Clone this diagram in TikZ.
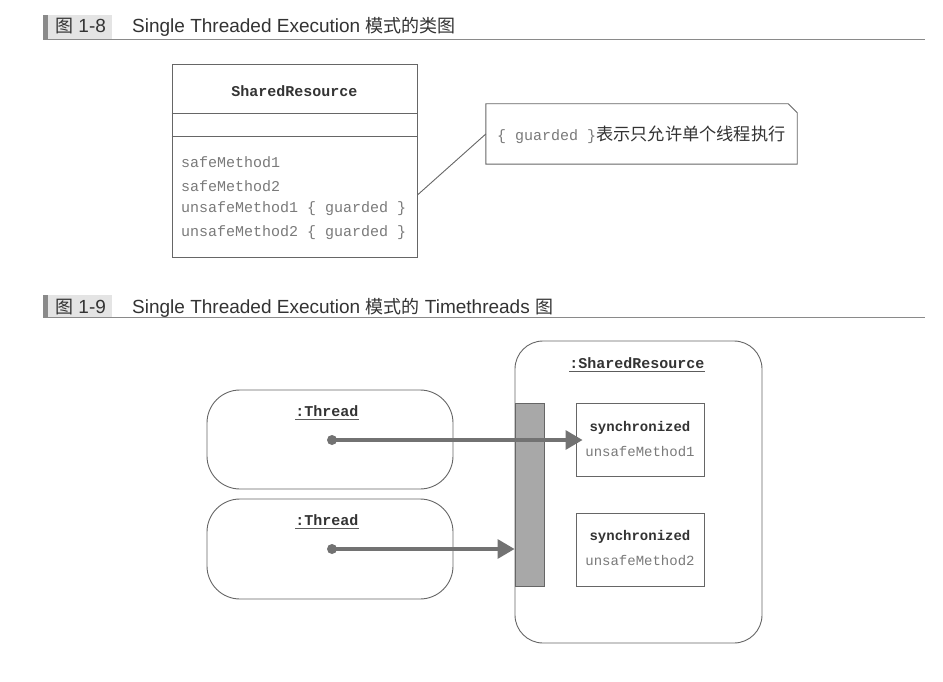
\documentclass[tikz,border=0pt]{standalone}
\usepackage{fontspec}
\setmainfont{Liberation Sans}
\setmonofont{Liberation Mono}
\newfontfamily\cjk{Noto Sans CJK SC}
\usetikzlibrary{arrows.meta}
\definecolor{ln}{HTML}{666666}
\definecolor{txt}{HTML}{333333}
\definecolor{lt}{HTML}{7A7A7A}
\definecolor{arr}{HTML}{727272}
\definecolor{barc}{HTML}{A8A8A8}
\definecolor{hbar}{HTML}{8A8A8A}
\definecolor{hbg}{HTML}{E4E4E4}
\begin{document}
\begin{tikzpicture}[x=1pt,y=-1pt,
  hdr/.style={anchor=base west, inner sep=0pt, text=txt, font=\fontsize{19}{22}\selectfont},
  box/.style={draw=ln, line width=0.9pt, inner sep=0pt},
  rbox/.style={draw=ln, line width=0.9pt, inner sep=0pt, rounded corners=33pt},
  mono/.style={inner sep=0pt, font=\ttfamily\fontsize{15}{18}\selectfont},
  monob/.style={inner sep=0pt, text=txt, font=\ttfamily\bfseries\fontsize{15}{18}\selectfont},
  monos/.style={inner sep=0pt, text=lt, font=\ttfamily\fontsize{14}{17}\selectfont},
  monosb/.style={inner sep=0pt, text=txt, font=\ttfamily\bfseries\fontsize{14}{17}\selectfont},
  method/.style={mono, anchor=west, text=lt},
  uline/.style={draw=txt!80, line width=0.8pt},
  dot/.style={circle, fill=arr, minimum size=10pt, inner sep=0pt},
  call/.style={draw=arr, line width=3.2pt, -{Triangle[length=17pt,width=19pt]}}
]
\useasboundingbox (0,0) rectangle (943,682);
\fill[white] (0,0) rectangle (943,682);

% ---------- header 1 ----------
\fill[hbg] (47,15) rectangle (112,39.5);
\fill[hbar] (43,15) rectangle (48,39.5);
\draw[hbar, line width=1.2pt] (43,39.5) -- (925,39.5);
\node[hdr] (h1num) at (55,33) {{\cjk\fontsize{18}{22}\selectfont 图} 1-8};
\node[hdr] (h1txt) at (132,33) {Single Threaded Execution {\cjk\fontsize{18}{22}\selectfont 模式的类图}};

% ---------- class box ----------
\node[box, minimum width=245pt, minimum height=193pt] (cls) at (294.5,160.5) {};
\draw[ln, line width=0.9pt] (cls.west |- 0,113) -- (cls.east |- 0,113);
\draw[ln, line width=0.9pt] (cls.west |- 0,136) -- (cls.east |- 0,136);
\node[monob] (clsname) at (294.5,91) {SharedResource};
\node[method] (sm1) at (181,162) {safeMethod1};
\node[method] (sm2) at (181,186) {safeMethod2};
\node[method] (um1) at (181,209) {unsafeMethod1 \{ guarded \}};
\node[method] (um2) at (181,233) {unsafeMethod2 \{ guarded \}};

% ---------- note ----------
\node[minimum width=311pt, minimum height=60pt, inner sep=0pt] (note) at (641.5,134) {};
\draw[ln, line width=0.9pt] (note.south west) -- (note.north west) -- ([xshift=-9pt]note.north east) -- ([yshift=-9pt]note.north east) -- (note.south east) -- cycle;
\node[anchor=west, inner sep=0pt] (notetext) at (497,135) {{\ttfamily\fontsize{15}{18}\selectfont\color{lt}\{ guarded \}}{\cjk\fontsize{17.2}{20}\selectfont\color{txt}表示只允许单个线程执行}};
\draw[ln, line width=0.9pt] (cls.east |- 0,195) -- (note.west);

% ---------- header 2 ----------
\fill[hbg] (47,295) rectangle (112,317.5);
\fill[hbar] (43,295) rectangle (48,317.5);
\draw[hbar, line width=1.2pt] (43,317.5) -- (925,317.5);
\node[hdr] (h2num) at (55,313) {{\cjk\fontsize{18}{22}\selectfont 图} 1-9};
\node[hdr] (h2txt) at (132,313) {Single Threaded Execution {\cjk\fontsize{18}{22}\selectfont 模式的} Timethreads {\cjk\fontsize{18}{22}\selectfont 图}};

% ---------- shared resource ----------
\node[rbox, rounded corners=28pt, minimum width=247pt, minimum height=302pt] (sr) at (638.5,492) {};
\node[monob] (srlab) at (637,363) {:SharedResource};
\draw[uline] ([yshift=-3.5pt]srlab.base west) -- ([yshift=-3.5pt]srlab.base east);
\node[draw=ln, fill=barc, line width=0.9pt, minimum width=29pt, minimum height=183pt, inner sep=0pt] (bar) at (529.5,494.5) {};

\node[box, minimum width=128pt, minimum height=73pt] (mb1) at (640,439.5) {};
\node[monosb] (sy1) at (640,428) {synchronized};
\node[monos] (un1) at (640,452) {unsafeMethod1};
\node[box, minimum width=128pt, minimum height=73pt] (mb2) at (640,549.5) {};
\node[monosb] (sy2) at (640,537) {synchronized};
\node[monos] (un2) at (640,561) {unsafeMethod2};

% ---------- threads ----------
\node[rbox, minimum width=246pt, minimum height=99pt] (thr1) at (330,439.5) {};
\node[monob] (t1lab) at (327,411) {:Thread};
\draw[uline] ([yshift=-3.5pt]t1lab.base west) -- ([yshift=-3.5pt]t1lab.base east);
\node[rbox, minimum width=246pt, minimum height=100pt] (thr2) at (330,549) {};
\node[monob] (t2lab) at (327,520) {:Thread};
\draw[uline] ([yshift=-3.5pt]t2lab.base west) -- ([yshift=-3.5pt]t2lab.base east);

\node[dot] (d1) at (332,440) {};
\node[dot] (d2) at (332,549) {};
\draw[call, shorten >=-7pt] (d1.center) -- (d1 -| mb1.west);
\draw[call] (d2.center) -- (d2 -| bar.west);
\end{tikzpicture}
\end{document}
